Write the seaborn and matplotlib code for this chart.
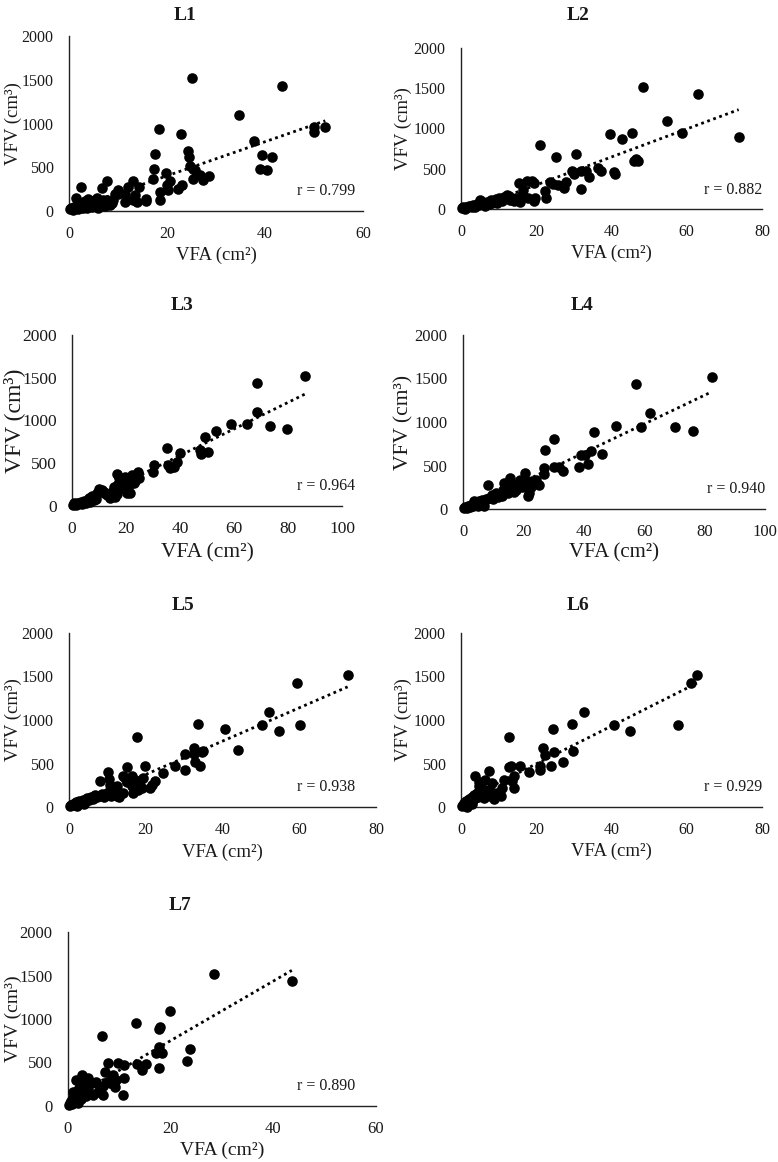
import matplotlib
matplotlib.use("Agg")
import matplotlib.pyplot as plt
import seaborn as sns
import numpy as np

# ---------------- data ----------------
levels = ["L1", "L2", "L3", "L4", "L5", "L6", "L7"]
r_values = ["0.799", "0.882", "0.964", "0.940", "0.938", "0.929", "0.890"]
x_max = [60, 80, 100, 100, 80, 80, 60]
y_ticks = [0, 500, 1000, 1500, 2000]

l1_vfa = [25.1, 43.5, 34.6, 18.4, 22.9, 49.9, 49.9, 52.3, 37.7, 39.4, 41.4, 38.9, 40.4, 17.6, 24.3, 24.4,
          24.7, 25.4, 25.7, 25.3, 27.3, 28.5, 26.8, 17.4, 17.2, 19.8, 20.6, 20.0, 20.3, 18.6, 18.5, 22.3,
          23.0, 13.1, 14.2, 13.5, 13.1, 13.8, 15.7, 15.7, 12.1, 11.4, 11.4, 10.1, 10.1, 9.4, 7.7, 6.7,
          7.8, 8.7, 2.5, 1.4, 0.2, 0.5, 0.8, 1.0, 1.5, 1.8, 2.2, 2.5, 3.0, 3.2, 3.6, 4.0, 4.3, 4.6, 5.0,
          5.3, 5.6, 6.0, 6.2, 6.6, 7.0, 7.3, 8.0, 8.3, 9.0, 3.8, 5.8, 2.8]
l1_vfv = [1520, 1430, 1100, 940, 880, 955, 900, 955, 805, 635, 615, 480, 473, 656, 687, 618,
          519, 485, 470, 363, 351, 400, 408, 477, 366, 435, 340, 294, 237, 218, 122, 256,
          302, 340, 275, 179, 122, 100, 141, 111, 275, 198, 103, 237, 198, 198, 340, 263,
          122, 92, 275, 153, 20, 30, 10, 45, 60, 25, 40, 90, 70, 110, 30, 80, 120, 50, 100,
          130, 70, 40, 115, 90, 130, 60, 110, 70, 130, 140, 150, 30]

l2_vfa = [48.5, 62.9, 54.8, 58.7, 73.8, 39.7, 42.8, 45.4, 45.9, 47.0, 46.4, 40.6, 40.9, 36.5, 37.3, 34.1,
          30.6, 25.3, 21.0, 31.9, 33.2, 31.9, 29.5, 30.0, 27.9, 27.5, 25.8, 24.5, 23.6, 22.3, 22.5, 19.0,
          19.4, 17.5, 15.5, 19.7, 19.5, 17.9, 15.3, 15.7, 16.2, 16.6, 12.2, 12.7, 13.1, 10.0, 9.6, 7.9,
          8.3, 5.2, 6.1, 5.1, 0.2, 0.5, 0.9, 1.3, 1.8, 2.2, 2.7, 3.2, 3.7, 4.2, 4.8, 5.5, 6.5, 7.0, 7.5,
          8.8, 9.2, 11.0, 11.5, 14.0, 14.5, 1.0, 3.0]
l2_vfv = [1520, 1427, 1093, 950, 895, 928, 866, 948, 602, 602, 620, 458, 433, 507, 466, 396,
          680, 643, 796, 478, 478, 252, 470, 429, 330, 260, 301, 309, 330, 219, 136, 342,
          322, 342, 322, 136, 95, 136, 115, 82, 177, 239, 177, 157, 115, 136, 74, 115,
          74, 95, 66, 115, 15, 25, 10, 30, 20, 40, 35, 50, 30, 60, 45, 70, 40, 90, 60,
          100, 130, 100, 150, 100, 140, 5, 20]

l3_vfa = [86.4, 68.5, 68.5, 73.5, 79.6, 59.0, 64.8, 53.3, 49.4, 47.3, 47.9, 50.4, 39.9, 35.2, 38.9, 37.7,
          36.4, 35.4, 30.2, 30.0, 24.4, 24.1, 22.2, 23.1, 19.8, 20.4, 16.7, 17.3, 20.4, 21.6, 18.5, 19.4,
          15.4, 14.8, 16.0, 14.2, 11.7, 10.5, 9.3, 8.0, 7.4, 6.2, 4.9, 21.0, 22.5, 24.8, 23.5, 18.0, 17.0,
          13.0, 12.0, 10.0, 11.0, 16.5, 0.3, 0.8, 1.3, 1.8, 2.3, 2.8, 3.3, 3.8, 4.3, 5.3, 5.8, 6.8, 7.8,
          8.5, 9.0]
l3_vfv = [1520, 1435, 1095, 940, 901, 955, 955, 877, 803, 655, 608, 635, 616, 682, 519, 460,
          440, 480, 480, 402, 402, 331, 363, 265, 343, 285, 370, 324, 148, 148, 207, 226,
          226, 168, 109, 90, 168, 179, 148, 70, 121, 90, 51, 250, 300, 330, 290, 280, 260,
          130, 150, 200, 190, 140, 15, 30, 10, 40, 25, 35, 45, 20, 60, 40, 70, 50, 100,
          110, 80]

l4_vfa = [82.3, 57.4, 62.0, 50.7, 59.0, 70.1, 76.2, 43.3, 30.0, 27.2, 46.0, 42.4, 39.1, 40.5, 41.3, 38.5,
          33.0, 31.9, 30.2, 26.7, 26.9, 25.2, 24.1, 23.0, 20.6, 20.8, 21.4, 22.0, 15.5, 16.1, 13.6, 13.1,
          8.3, 9.7, 10.9, 8.6, 6.4, 5.3, 4.0, 18.5, 19.5, 17.5, 19.0, 21.5, 22.5, 14.5, 12.0, 11.5, 13.0,
          15.0, 17.0, 10.0, 7.5, 0.3, 0.8, 1.3, 1.8, 2.3, 2.8, 3.3, 3.6, 4.5, 5.0, 5.8, 6.8, 7.0]
l4_vfv = [1522, 1434, 1101, 956, 948, 941, 899, 883, 807, 681, 635, 662, 616, 620, 516, 478,
          440, 482, 482, 470, 402, 279, 336, 317, 413, 317, 145, 184, 356, 279, 298, 222,
          272, 164, 184, 126, 107, 88, 76, 300, 250, 220, 330, 260, 250, 200, 170, 140, 150,
          180, 200, 120, 110, 10, 25, 15, 35, 20, 45, 30, 90, 50, 30, 60, 80, 40]

l5_vfa = [72.6, 59.3, 60.2, 52.2, 50.2, 54.6, 44.1, 40.7, 33.5, 32.7, 34.6, 35.0, 34.1, 32.8, 32.6, 30.2,
          30.2, 27.6, 24.4, 21.5, 22.4, 21.1, 19.8, 17.6, 15.0, 14.2, 14.6, 15.0, 16.3, 17.2, 18.5, 19.3,
          16.3, 16.6, 18.1, 18.9, 10.2, 10.5, 10.7, 10.7, 9.8, 8.0, 12.4, 12.4, 12.0, 0.2, 0.6, 1.0, 1.4,
          1.8, 2.3, 2.7, 3.2, 3.7, 4.2, 4.7, 5.2, 5.8, 6.3, 6.8, 7.3, 7.8, 8.5, 9.2, 11.0, 13.0, 14.0,
          2.0, 4.0]
l5_vfv = [1521, 1425, 939, 1096, 946, 877, 651, 897, 954, 678, 628, 640, 475, 513, 609, 613,
          429, 467, 391, 257, 295, 218, 475, 801, 460, 352, 333, 284, 352, 314, 295, 333,
          238, 161, 199, 218, 398, 322, 257, 199, 161, 295, 123, 238, 161, 10, 25, 40, 20,
          55, 35, 70, 50, 85, 60, 100, 75, 120, 90, 140, 110, 130, 150, 120, 130, 110, 160,
          10, 30]

l6_vfa = [62.7, 61.2, 57.6, 40.7, 45.0, 32.6, 29.5, 24.4, 21.7, 22.2, 24.6, 29.9, 27.1, 24.0, 21.1, 21.1,
          18.2, 15.8, 12.8, 12.7, 13.3, 14.0, 14.2, 13.6, 11.3, 10.9, 10.5, 7.8, 9.6, 7.5, 8.2, 6.5,
          4.7, 5.1, 6.5, 3.8, 4.7, 7.8, 0.2, 0.5, 0.8, 1.1, 1.4, 1.7, 2.0, 2.4, 2.8, 3.1, 3.4, 3.8,
          4.2, 4.6, 5.5, 6.0, 7.0, 8.8, 3.0, 1.5]
l6_vfv = [1521, 1425, 939, 946, 874, 1092, 954, 897, 678, 602, 628, 647, 513, 467, 467, 429,
          402, 467, 801, 460, 475, 352, 218, 295, 314, 218, 123, 123, 161, 410, 276, 314,
          238, 199, 199, 360, 284, 199, 10, 25, 45, 20, 65, 40, 90, 60, 120, 80, 140, 100,
          160, 120, 140, 100, 150, 90, 30, 5]

l7_vfa = [28.5, 43.6, 19.8, 13.2, 17.7, 18.0, 23.7, 23.2, 17.7, 17.2, 18.4, 17.7, 6.7, 15.2, 14.5, 13.5,
          9.7, 11.0, 7.8, 7.3, 10.7, 11.0, 9.4, 9.1, 8.8, 8.1, 6.8, 7.5, 5.5, 4.7, 6.2, 4.9,
          6.8, 5.8, 2.8, 3.9, 1.6, 0.1, 0.3, 0.5, 0.7, 0.9, 1.1, 1.3, 1.5, 1.7, 1.9, 2.1, 2.3,
          2.6, 2.9, 3.2, 3.5, 3.8, 4.2, 2.0, 1.0]
l7_vfv = [1518, 1434, 1094, 956, 880, 910, 654, 512, 673, 612, 612, 432, 807, 478, 413, 478,
          489, 470, 489, 394, 126, 325, 298, 214, 356, 260, 229, 279, 279, 260, 214, 126,
          126, 164, 356, 325, 298, 10, 30, 60, 20, 90, 45, 130, 70, 170, 100, 210, 140,
          80, 250, 180, 110, 230, 150, 40, 160]

vfa_all = [l1_vfa, l2_vfa, l3_vfa, l4_vfa, l5_vfa, l6_vfa, l7_vfa]
vfv_all = [l1_vfv, l2_vfv, l3_vfv, l4_vfv, l5_vfv, l6_vfv, l7_vfv]

# ---------------- layout (pixels of a 778x1162 canvas) ----------------
W, H = 778, 1162
# left, right, top, bottom of each axes in pixels
boxes = [(69, 363, 36, 211), (461, 762, 48, 209),
         (72, 342, 335, 506), (463, 765, 335, 509),
         (69, 376, 633, 807), (461, 762, 633, 807),
         (68, 376, 932, 1106)]
title_pos = [(185, 15), (578, 15), (182, 305), (582, 305), (183, 605), (578, 605), (180, 905)]
xlabel_y = [255, 253, 553, 553, 852, 851, 1150]
ylabel_x = [13, 403, 14, 404, 13, 403, 13]
xlabel_size = [13.5, 13.5, 15.5, 15, 13.5, 13.5, 14]
ylabel_size = [13.5, 13.5, 17, 15.5, 13.5, 13.5, 14]
tick_size = [11.5, 11.5, 12.5, 12, 11.5, 11.5, 12]

sns.set_style("white")
plt.rcParams["font.family"] = ["Liberation Serif", "DejaVu Serif"]
plt.rcParams["text.color"] = "#1a1a1a"

fig = plt.figure(figsize=(W / 100, H / 100), dpi=100)

for i in range(7):
    l, r, t, b = boxes[i]
    ax = fig.add_axes([l / W, 1 - b / H, (r - l) / W, (b - t) / H])
    sns.regplot(x=np.array(vfa_all[i]), y=np.array(vfv_all[i]), ax=ax, ci=None,
                scatter_kws=dict(s=58, color="black", linewidths=0, alpha=1, clip_on=False, zorder=3),
                line_kws=dict(color="black", linestyle=(0, (1, 1.3)), linewidth=2, zorder=4))
    ax.set_xlim(0, x_max[i])
    ax.set_ylim(0, 2000)
    ax.set_xticks(np.arange(0, x_max[i] + 1, 20))
    ax.set_yticks(y_ticks)
    ax.tick_params(axis="both", length=0, labelsize=tick_size[i], colors="#1a1a1a")
    ax.tick_params(axis="x", pad=11)
    ax.tick_params(axis="y", pad=11)
    for s in ["top", "right"]:
        ax.spines[s].set_visible(False)
    for s in ["left", "bottom"]:
        ax.spines[s].set_color("#222222")
        ax.spines[s].set_linewidth(1.0)
    ax.set_xlabel("")
    ax.set_ylabel("")
    fig.text((l + r) / 2 / W, 1 - xlabel_y[i] / H, "VFA (cm²)", fontsize=xlabel_size[i],
             ha="center", va="center")
    fig.text(ylabel_x[i] / W, 1 - (t + b) / 2 / H, "VFV (cm³)", fontsize=ylabel_size[i],
             ha="center", va="center", rotation=90)
    fig.text(title_pos[i][0] / W, 1 - title_pos[i][1] / H, levels[i], fontsize=14,
             fontweight="bold", ha="center", va="center")
    ax.text(1.0 + (355 - r) / (r - l) if i % 2 == 0 else 1.0, 0.115, "r = " + r_values[i],
            transform=ax.transAxes, ha="right", va="center", fontsize=11.5)

fig.savefig("out.png", dpi=100)
